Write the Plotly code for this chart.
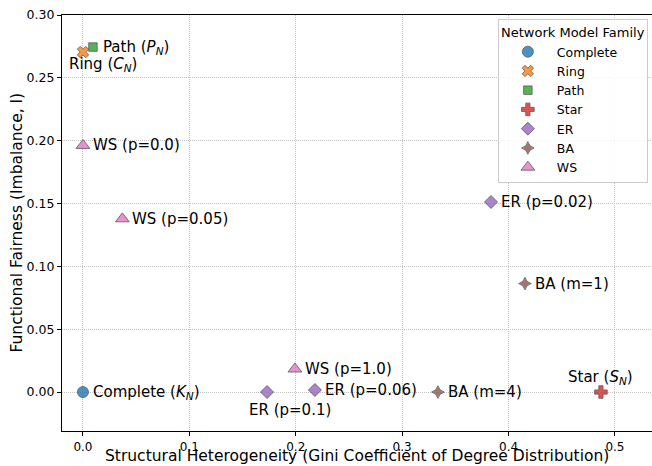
import plotly.graph_objects as go

# ---- data ----
families = ["Complete", "Ring", "Path", "Star", "ER", "BA", "WS"]
family_colors = ["#1f77b4", "#ff7f0e", "#2ca02c", "#d62728", "#9467bd", "#8c564b", "#e377c2"]
family_symbols = ["circle", "x", "square", "cross", "diamond", "star-diamond", "triangle-up"]
family_sizes = [11, 10, 8.5, 10.5, 10, 9, 12]

point_family = ["Complete", "Ring", "Path", "Star", "ER", "ER", "ER", "BA", "BA", "WS", "WS", "WS"]
point_x = [0.0, 0.0, 0.0094, 0.4868, 0.3835, 0.218, 0.173, 0.4154, 0.3336, 0.0, 0.037, 0.1992]
point_y = [0.0, 0.2705, 0.2745, 0.0, 0.1512, 0.0016, 0.0, 0.0863, 0.0, 0.1962, 0.1378, 0.0183]
point_label = ["Complete (<i>K<sub>N</sub></i>)", "Ring (<i>C<sub>N</sub></i>)", "Path (<i>P<sub>N</sub></i>)",
               "Star (<i>S<sub>N</sub></i>)", "ER (p=0.02)", "ER (p=0.06)", "ER (p=0.1)",
               "BA (m=1)", "BA (m=4)", "WS (p=0.0)", "WS (p=0.05)", "WS (p=1.0)"]
label_pos = ["right", "belowleft", "right", "above", "right", "right", "below",
             "right", "right", "right", "right", "right"]

x_ticks = [0.0, 0.1, 0.2, 0.3, 0.4, 0.5]
y_ticks = [0.00, 0.05, 0.10, 0.15, 0.20, 0.25, 0.30]

x_title = "Structural Heterogeneity (Gini Coefficient of Degree Distribution)"
y_title = "Functional Fairness (Imbalance, I)"
legend_title = "Network Model Family"

FONT = "DejaVu Sans"

fig = go.Figure()
for fam, col, sym, sz in zip(families, family_colors, family_symbols, family_sizes):
    xs = [x for x, f in zip(point_x, point_family) if f == fam]
    ys = [y for y, f in zip(point_y, point_family) if f == fam]
    fig.add_trace(go.Scatter(
        x=xs, y=ys, mode="markers", name=fam,
        marker=dict(symbol=sym, size=sz, color=col, opacity=0.8,
                    line=dict(color="#333333", width=0.8)),
    ))

pos_map = {
    "right": dict(xanchor="left", yanchor="middle", xshift=8, yshift=0),
    "belowleft": dict(xanchor="center", yanchor="middle", xshift=20, yshift=-12),
    "above": dict(xanchor="center", yanchor="middle", xshift=0, yshift=15),
    "below": dict(xanchor="center", yanchor="middle", xshift=23, yshift=-18),
}
for x, y, lab, pos in zip(point_x, point_y, point_label, label_pos):
    fig.add_annotation(x=x, y=y, xref="x", yref="y", text=lab, showarrow=False,
                       font=dict(family=FONT, size=15, color="black"), **pos_map[pos])

# axis titles as paper annotations
fig.add_annotation(x=0.5, y=-0.0841, xref="paper", yref="paper", text=x_title, showarrow=False,
                   xanchor="center", yanchor="bottom", borderpad=0,
                   font=dict(family=FONT, size=15.5, color="black"))
fig.add_annotation(x=-0.077, y=0.5, xref="paper", yref="paper", text=y_title, showarrow=False,
                   textangle=-90, xanchor="center", yanchor="middle",
                   font=dict(family=FONT, size=15.5, color="black"))

fig.update_layout(
    width=652, height=466,
    margin=dict(l=62, r=0, t=15, b=35),
    plot_bgcolor="white", paper_bgcolor="white",
    font=dict(family=FONT, color="black"),
    showlegend=True,
    legend=dict(
        title=dict(text=legend_title, font=dict(size=13), side="top center"),
        x=0.993, y=0.990, xanchor="right", yanchor="top",
        bgcolor="rgba(255,255,255,0.85)", bordercolor="#cccccc", borderwidth=1,
        font=dict(size=12.5), tracegroupgap=0, itemsizing="trace", itemwidth=48,
    ),
    xaxis=dict(
        range=[-0.0197, 0.5348], tickvals=x_ticks, ticktext=[f"{v:.1f}" for v in x_ticks],
        showline=True, linecolor="black", linewidth=1.2, mirror=True,
        ticks="outside", ticklen=4, tickcolor="black", tickfont=dict(size=12),
        showgrid=True, gridcolor="#c4c4c4", griddash="1px,1px", gridwidth=0.8, zeroline=False,
    ),
    yaxis=dict(
        range=[-0.031, 0.3], tickvals=y_ticks, ticktext=[f"{v:.2f}" for v in y_ticks],
        showline=True, linecolor="black", linewidth=1.2, mirror=False,
        ticks="outside", ticklen=4, tickcolor="black", tickfont=dict(size=12.5),
        showgrid=True, gridcolor="#c4c4c4", griddash="1px,1px", gridwidth=0.8, zeroline=False,
    ),
)

fig.write_html("out.html")
